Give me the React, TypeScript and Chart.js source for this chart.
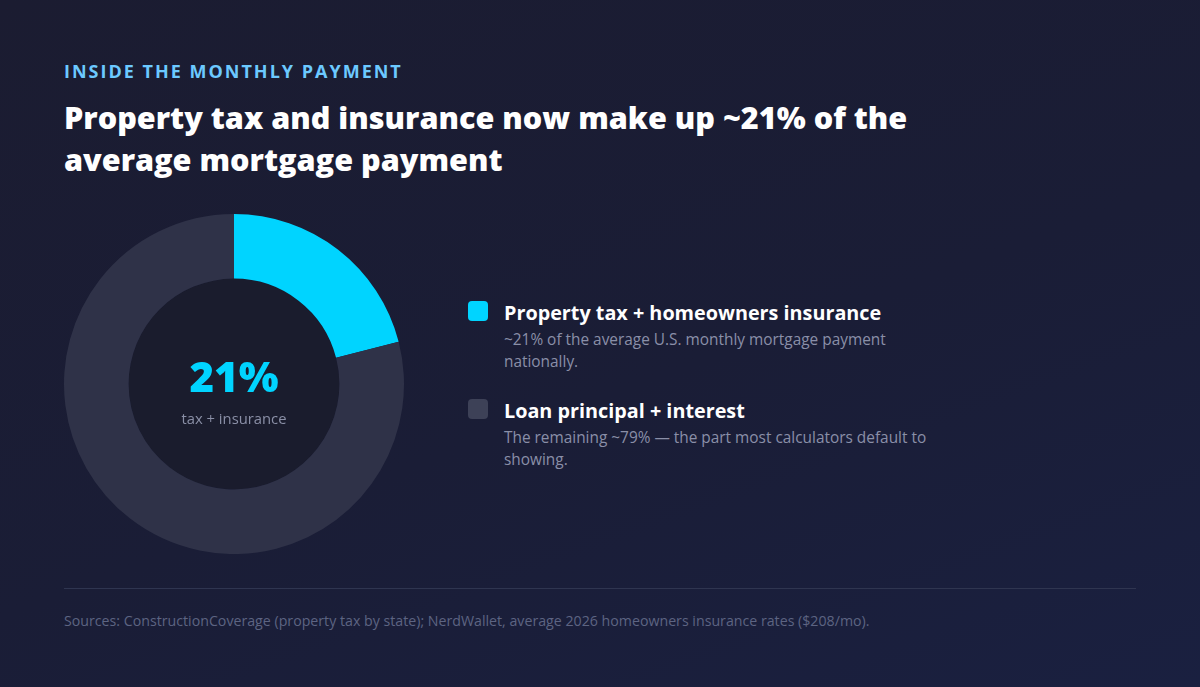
import React, { useEffect, useRef } from "react";
import { Chart, registerables } from "chart.js";

Chart.register(...registerables);

const categories = ["Property tax + homeowners insurance", "Loan principal + interest"];
const shares = [21, 79];
const sliceColors = ["#00d4ff", "#2f3248"];
const descriptions = [
  "~21% of the average U.S. monthly mortgage payment nationally.",
  "The remaining ~79% — the part most calculators default to showing.",
];
const eyebrow = "INSIDE THE MONTHLY PAYMENT";
const titleText = "Property tax and insurance now make up ~21% of the average mortgage payment";
const centerValue = "21%";
const centerLabel = "tax + insurance";
const sourceText =
  "Sources: ConstructionCoverage (property tax by state); NerdWallet, average 2026 homeowners insurance rates ($208/mo).";

const FONT = "'Open Sans', 'Noto Sans', sans-serif";

const holePlugin = {
  id: "holeFill",
  beforeDatasetsDraw(chart: any) {
    const meta = chart.getDatasetMeta(0);
    const arc = meta.data[0];
    if (!arc) return;
    const { x, y, innerRadius } = arc as any;
    const ctx = chart.ctx;
    ctx.save();
    ctx.beginPath();
    ctx.arc(x, y, innerRadius, 0, Math.PI * 2);
    ctx.fillStyle = "#1a1c2d";
    ctx.fill();
    ctx.restore();
  },
};

export default function App() {
  const ref = useRef<HTMLCanvasElement | null>(null);

  useEffect(() => {
    if (!ref.current) return;
    const chart = new Chart(ref.current, {
      type: "doughnut",
      data: {
        labels: categories,
        datasets: [
          {
            data: shares,
            backgroundColor: sliceColors,
            borderWidth: 0,
            hoverOffset: 0,
          },
        ],
      },
      options: {
        animation: false,
        responsive: false,
        maintainAspectRatio: false,
        cutout: "62%",
        rotation: 0,
        layout: { padding: 0 },
        plugins: {
          legend: { display: false },
          tooltip: { enabled: false },
        },
      },
      plugins: [holePlugin],
    });
    return () => chart.destroy();
  }, []);

  return (
    <div
      style={{
        position: "fixed",
        left: 0,
        top: 0,
        width: 1200,
        height: 687,
        overflow: "hidden",
        background: "linear-gradient(160deg, #1b1c31 0%, #1a1d36 55%, #1a2040 100%)",
        fontFamily: FONT,
      }}
    >
      <div
        style={{
          position: "absolute",
          left: 64,
          top: 59,
          fontSize: 18,
          fontWeight: 700,
          letterSpacing: 2,
          color: "#6cc9ff",
          lineHeight: "24px",
        }}
      >
        {eyebrow}
      </div>
      <div
        style={{
          position: "absolute",
          left: 64,
          top: 96,
          width: 900,
          fontSize: 30.6,
          fontWeight: 800,
          color: "#ffffff",
          lineHeight: "42px",
        }}
      >
        {titleText}
      </div>

      <canvas
        ref={ref}
        width={340}
        height={340}
        style={{ position: "absolute", left: 64, top: 214, width: 340, height: 340 }}
      />
      <div
        style={{
          position: "absolute",
          left: 134,
          top: 348,
          width: 200,
          textAlign: "center",
          fontSize: 42,
          fontWeight: 800,
          color: "#00d4ff",
          lineHeight: "56px",
        }}
      >
        {centerValue}
      </div>
      <div
        style={{
          position: "absolute",
          left: 134,
          top: 408,
          width: 200,
          textAlign: "center",
          fontSize: 14.8,
          fontWeight: 500,
          color: "#8a8fa6",
          lineHeight: "20px",
        }}
      >
        {centerLabel}
      </div>

      {categories.map((c, i) => (
        <div key={c} style={{ position: "absolute", left: 468, top: 300 + i * 98, width: 480 }}>
          <div
            style={{
              position: "absolute",
              left: 0,
              top: 1,
              width: 20,
              height: 20,
              borderRadius: 4,
              background: i === 0 ? sliceColors[0] : "#3d4157",
            }}
          />
          <div
            style={{
              marginLeft: 36,
              fontSize: 19.8,
              fontWeight: 700,
              color: "#ffffff",
              lineHeight: "28px",
              marginTop: -1,
            }}
          >
            {c}
          </div>
          <div
            style={{
              marginLeft: 36,
              fontSize: 15.4,
              color: "#8a8fa8",
              lineHeight: "22px",
              marginTop: 2,
              width: 430,
            }}
          >
            {descriptions[i]}
          </div>
        </div>
      ))}

      <div
        style={{
          position: "absolute",
          left: 64,
          top: 588,
          width: 1072,
          height: 1,
          background: "#2f3550",
        }}
      />
      <div
        style={{
          position: "absolute",
          left: 64,
          top: 611,
          fontSize: 14.2,
          color: "#5d6482",
          lineHeight: "20px",
        }}
      >
        {sourceText}
      </div>
    </div>
  );
}
